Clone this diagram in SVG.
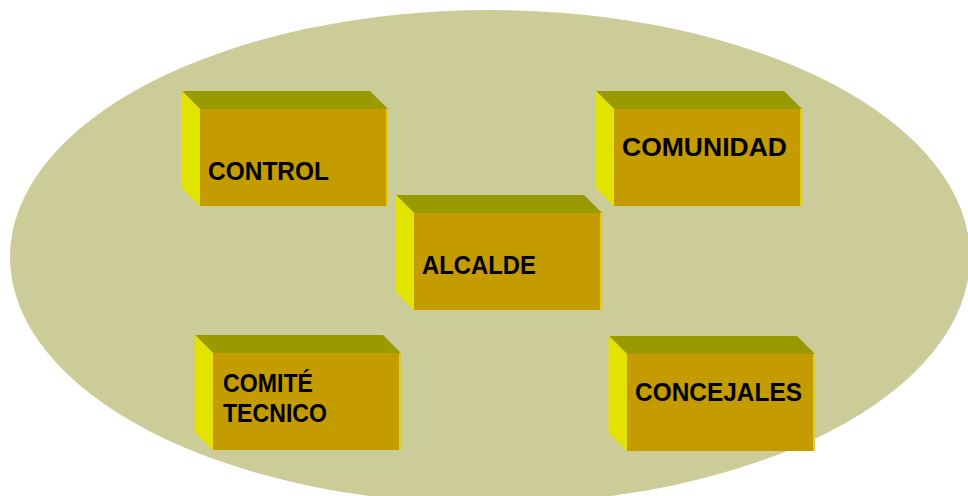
<svg xmlns="http://www.w3.org/2000/svg" width="968" height="496" viewBox="0 0 968 496">
<defs>
<style>
.top{fill:#999900}
.side{fill:#E3E300}
.front{fill:#C59C00}
.edge{fill:#E6D000}
.lbl{font-family:"Liberation Sans",Arial,sans-serif;font-weight:bold;font-size:26px;fill:#000}
</style>
<g id="box">
<polygon class="top" points="0,0 188,0 206,18 18,18"/>
<polygon class="side" points="0,0 18,18 18,115 0,97"/>
<rect class="front" x="18" y="18" width="188" height="97"/>
<rect class="edge" x="204" y="18" width="2" height="97"/>
</g>
</defs>
<rect width="968" height="496" fill="#fff"/>
<ellipse cx="490" cy="257" rx="480" ry="247" fill="#CCCC99"/>
<g id="connectors"></g>
<g id="control" transform="translate(182,91)">
<use href="#box"/>
<text class="lbl" x="26" y="89" textLength="121" lengthAdjust="spacingAndGlyphs">CONTROL</text>
</g>
<g id="comunidad" transform="translate(596,91)">
<use href="#box"/>
<text class="lbl" x="26" y="65" textLength="165" lengthAdjust="spacingAndGlyphs">COMUNIDAD</text>
</g>
<g id="alcalde" transform="translate(396,195)">
<use href="#box"/>
<text class="lbl" x="26" y="79" textLength="114" lengthAdjust="spacingAndGlyphs">ALCALDE</text>
</g>
<g id="comite" transform="translate(195,335)">
<use href="#box"/>
<text class="lbl" x="28" y="57" textLength="90" lengthAdjust="spacingAndGlyphs">COMITÉ</text>
<text class="lbl" x="28" y="87" textLength="104" lengthAdjust="spacingAndGlyphs">TECNICO</text>
</g>
<g id="concejales" transform="translate(609,336)">
<use href="#box"/>
<text class="lbl" x="26" y="65" textLength="167" lengthAdjust="spacingAndGlyphs">CONCEJALES</text>
</g>
</svg>
